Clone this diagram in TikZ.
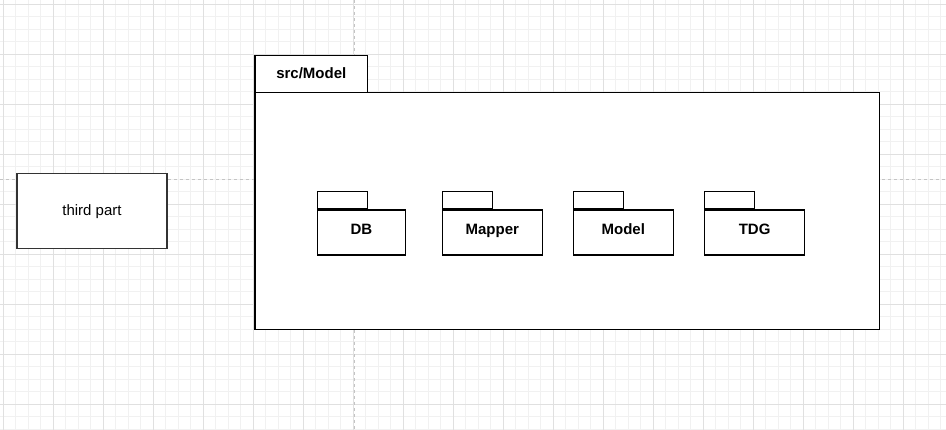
\documentclass[tikz,border=0pt]{standalone}
\usepackage{fontspec}
\setmainfont{Liberation Sans}
\usetikzlibrary{positioning}

\definecolor{minorgray}{HTML}{F1F1F1}
\definecolor{majorgray}{HTML}{E0E0E0}
\definecolor{pagegray}{HTML}{C4C4C4}

\tikzset{
  minorgrid/.style={minorgray, line width=0.7pt},
  majorgrid/.style={majorgray, line width=0.7pt},
  pagebreak/.style={pagegray, line width=0.8pt, dash pattern=on 3pt off 3pt},
  partbox/.style={draw=black!80, fill=white, line width=1.25pt, inner sep=0pt,
    minimum width=150pt, minimum height=75pt, text height=11pt, text depth=1pt,
    font=\fontsize{15}{18}\selectfont},
  pkgtab/.style={draw, fill=white, line width=1.25pt, inner sep=0pt,
    minimum width=50pt, minimum height=17.5pt, anchor=south west},
  pkgbody/.style={draw, fill=white, line width=1.25pt, inner sep=0pt,
    minimum height=45pt, anchor=north west, text height=11pt, text depth=7pt,
    font=\bfseries\fontsize{15}{18}\selectfont}
}

\begin{document}
\begin{tikzpicture}[x=1pt, y=-1pt]

\useasboundingbox[fill=white] (0,0) rectangle (946,430);

% Background grid
\foreach \x in {3.3,15.8,...,946} \draw[minorgrid] (\x,0) -- (\x,430);
\foreach \y in {4,16.5,...,430} \draw[minorgrid] (0,\y) -- (946,\y);
\foreach \x in {3.3,53.3,...,946} \draw[majorgrid] (\x,0) -- (\x,430);
\foreach \y in {4,54,...,430} \draw[majorgrid] (0,\y) -- (946,\y);

% Page breaks
\draw[pagebreak] (354,0) -- (354,430);
\draw[pagebreak] (0,179) -- (946,179);

% Third part box
\node[partbox] (third) at (92,210.7) {third part};

% Package src/Model
\node[pkgtab, anchor=north west, minimum width=112.7pt, minimum height=37pt,
  text height=11pt, text depth=0.8pt,
  font=\bfseries\fontsize{15}{18}\selectfont] (srctab) at (254.3,54.7) {src/Model};
\node[pkgbody, minimum width=624.7pt, minimum height=237.3pt] (srcbody) at (254.3,91.7) {};

% Inner packages
\foreach \i/\x/\w/\t in {db/317/87.5/DB, mapper/441.7/100/Mapper,
  model/572.7/100/Model, tdg/704/100/TDG} {
\node[pkgbody, minimum width=\w pt] (\i) at (\x,209.5) {\t};
\node[pkgtab] (\i tab) at (\i.north west) {};
}

\end{tikzpicture}
\end{document}
